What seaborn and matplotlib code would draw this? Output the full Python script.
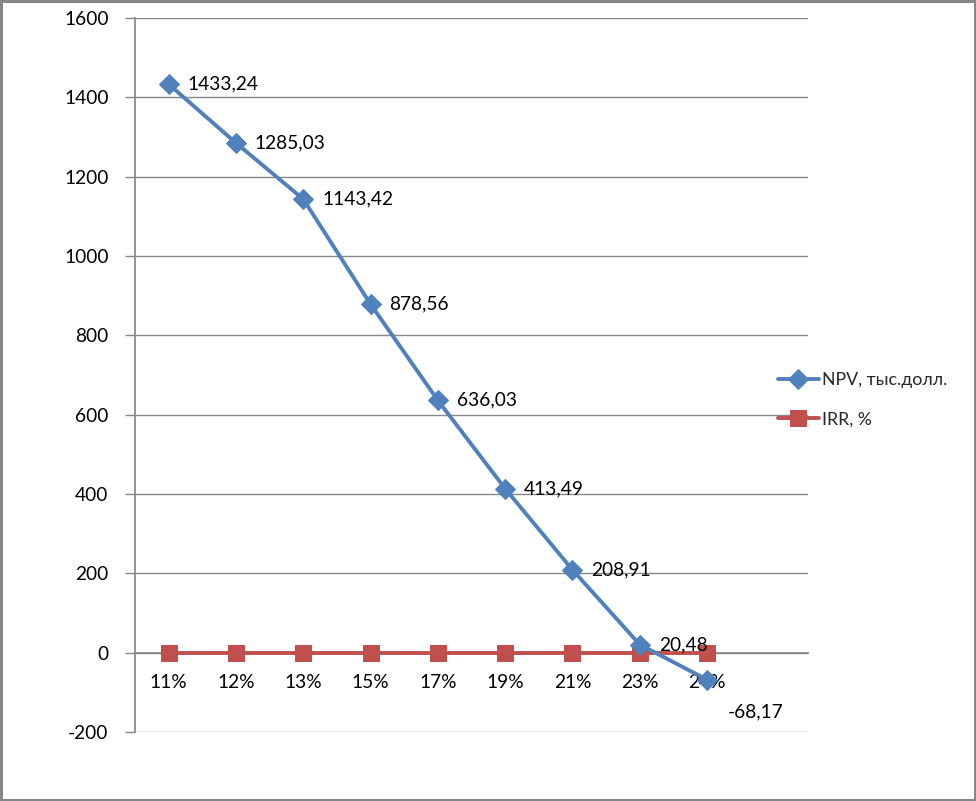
import matplotlib
matplotlib.use("Agg")
import matplotlib.pyplot as plt
import seaborn as sns
import pandas as pd
import numpy as np

categories = ["11%", "12%", "13%", "15%", "17%", "19%", "21%", "23%", "24%"]
npv = [1433.24, 1285.03, 1143.42, 878.56, 636.03, 413.49, 208.91, 20.48, -68.17]
irr = [0, 0, 0, 0, 0, 0, 0, 0, 0]
npv_labels = ["1433,24", "1285,03", "1143,42", "878,56", "636,03", "413,49", "208,91", "20,48", "-68,17"]
series_names = ["NPV, тыс.долл.", "IRR, %"]
y_ticks = [-200, 0, 200, 400, 600, 800, 1000, 1200, 1400, 1600]

sns.set_theme(style="white")
plt.rcParams['font.family'] = ['Lato', 'DejaVu Sans']

blue = "#4F81BD"
red = "#C0504D"
grid = "#878787"
fs = 13.8

fig = plt.figure(figsize=(9.76, 8.01), dpi=100)
ax = fig.add_axes([135/976, 1-732/801, (808-135)/976, (732-18)/801])

df = pd.DataFrame({"cat": categories, "npv": npv, "irr": irr})
sns.lineplot(data=df, x="cat", y="npv", ax=ax, color=blue, lw=2.8, marker="D",
             markersize=10.5, markeredgecolor=blue, label=series_names[0], zorder=4, sort=False)
sns.lineplot(data=df, x="cat", y="irr", ax=ax, color=red, lw=2.8, marker="s",
             markersize=11, markeredgecolor=red, label=series_names[1], zorder=3, sort=False)

ax.set_xlim(-0.5, 9.5)
ax.set_ylim(-200, 1600)
ax.set_yticks(y_ticks)
ax.set_yticklabels([str(v) for v in y_ticks], fontsize=fs, color="black")
ax.yaxis.grid(True, color=grid, lw=1)
ax.set_axisbelow(True)
ax.set_xlabel("")
ax.set_ylabel("")

ax.spines['bottom'].set_position(('data', 0))
ax.spines['bottom'].set_color(grid)
ax.spines['left'].set_color(grid)
ax.spines['top'].set_visible(False)
ax.spines['right'].set_visible(False)
ax.spines['bottom'].set_zorder(1)

ax.set_xticks(range(len(categories)))
ax.set_xticklabels(categories, fontsize=fs, color="black")
ax.set_xticks(np.arange(0.5, 10, 1.0), minor=True)
ax.tick_params(axis='x', which='major', length=0, pad=15)
ax.tick_params(axis='x', which='minor', length=7, color=grid, width=1, direction='out')
ax.tick_params(axis='y', which='major', length=7, color=grid, width=1, direction='out', pad=12, left=True)

for i, (v, lab) in enumerate(zip(npv, npv_labels)):
    if i == len(npv) - 1:
        off = (21, -32)
    else:
        off = (19, 0)
    ax.annotate(lab, xy=(i, v), xytext=off, textcoords='offset pixels',
                ha='left', va='center', fontsize=fs, color='black', zorder=6)

ax.get_legend().remove()
h, l = ax.get_legend_handles_labels()
fig.legend(h, l, loc='center left', bbox_to_anchor=(762/976, 1-400/801), frameon=False,
           fontsize=12.8, handlelength=2.3, labelspacing=1.3, handletextpad=0.15)

fig.patch.set_edgecolor(grid)
fig.patch.set_linewidth(2.5)
fig.savefig("out.png", dpi=100, edgecolor=fig.get_edgecolor())
